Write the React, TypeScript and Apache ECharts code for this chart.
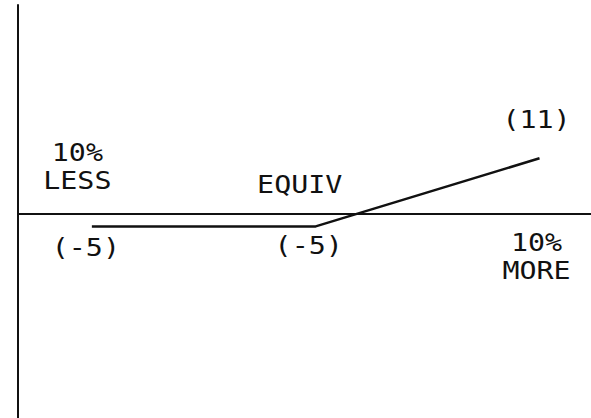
import React, { useEffect, useRef } from "react";
import * as echarts from "echarts";

// Data
const xPositions = [-10, 0, 10]; // % change: 10% less, equivalent, 10% more
const yValues = [-5, -5, 11];
const valueLabels = ["(-5)", "(-5)", "(11)"];
const categoryLabels = ["10%\nLESS", "EQUIV", "10%\nMORE"];
const BASELINE = -2;

const INK = "#111";
const FONT = "DejaVu Sans Mono";

export default function App() {
  const ref = useRef<HTMLDivElement>(null);
  useEffect(() => {
    if (!ref.current) return;
    const chart = echarts.init(ref.current, undefined, { renderer: "svg" });
    chart.setOption({
      animation: false,
      backgroundColor: "#fff",
      grid: { left: 18, right: 0, top: 5, bottom: 0 },
      xAxis: {
        type: "value",
        min: -13.3,
        max: 12.3,
        show: false,
      },
      yAxis: {
        type: "value",
        min: -50,
        max: 47,
        axisLine: { show: true, onZero: false, lineStyle: { color: INK, width: 2 } },
        axisTick: { show: false },
        axisLabel: { show: false },
        splitLine: { show: false },
      },
      series: [
        {
          type: "line",
          data: xPositions.map((x, i) => [x, yValues[i]]),
          symbol: "none",
          lineStyle: { color: INK, width: 2.5 },
          markLine: {
            silent: true,
            symbol: "none",
            label: { show: false },
            lineStyle: { color: INK, width: 1.8, type: "solid" },
            data: [{ yAxis: BASELINE }],
          },
        },
      ],
    });

    const pts = xPositions.map((x, i) =>
      chart.convertToPixel({ gridIndex: 0 }, [x, yValues[i]]) as number[]
    );
    const base = chart.convertToPixel({ gridIndex: 0 }, [0, BASELINE]) as number[];
    const baseY = base[1];

    const txt = (text: string, x: number, y: number) => ({
      type: "text",
      x,
      y,
      scaleX: 1.18,
      style: {
        text,
        fill: INK,
        font: `24px "${FONT}"`,
        align: "center",
        verticalAlign: "middle",
        lineHeight: 28,
      },
    });

    const valueOffsets = [
      [-6, 21],
      [-7, 19],
      [-3, -39],
    ];
    const catOffsets = [
      [-14.5, -47],
      [-16, -29],
      [-3, 43],
    ];
    const graphic: any[] = [];
    pts.forEach((p, i) => {
      graphic.push(txt(valueLabels[i], p[0] + valueOffsets[i][0], p[1] + valueOffsets[i][1]));
      graphic.push(txt(categoryLabels[i], p[0] + catOffsets[i][0], baseY + catOffsets[i][1]));
    });
    chart.setOption({ graphic });

    return () => chart.dispose();
  }, []);
  return (
    <div
      ref={ref}
      style={{ position: "fixed", left: 0, top: 0, width: 591, height: 418 }}
    />
  );
}
